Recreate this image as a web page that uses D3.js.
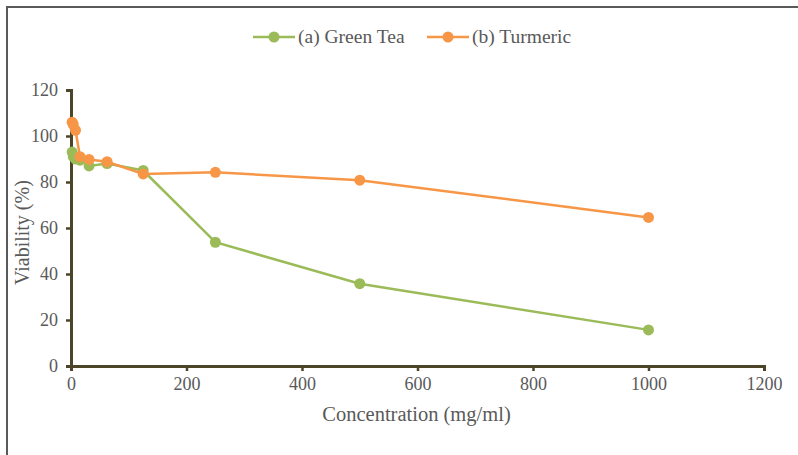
<!DOCTYPE html>
<html>
<head>
<meta charset="utf-8">
<script src="https://cdn.jsdelivr.net/npm/d3@7"></script>
<style>
  body { margin: 0; background: #fff; }
  svg text { font-family: "Liberation Serif", "Times New Roman", "DejaVu Serif", serif; fill: #595959; }
</style>
</head>
<body>
<svg id="chart" width="798" height="455"></svg>
<script>
const concentrations = [1.95, 3.9, 7.8, 15.6, 31.25, 62.5, 125, 250, 500, 1000];
const greenTea = [93, 91, 90, 89.5, 87, 88, 85, 53.8, 35.8, 15.7];
const turmeric = [106, 105, 102.5, 91, 89.8, 88.8, 83.5, 84.2, 80.8, 64.6];
const seriesNames = ["(a) Green Tea", "(b) Turmeric"];
const seriesColors = ["#9bbb59", "#f79646"];
const xTicks = [0, 200, 400, 600, 800, 1000, 1200];
const yTicks = [0, 20, 40, 60, 80, 100, 120];

const svg = d3.select("#chart");
const margin = { left: 71, right: 34, top: 90, bottom: 89 };
const width = 798, height = 455;
const serif = "Liberation Serif, Times New Roman, serif";

// frame (top and left edges only)
svg.append("path")
  .attr("d", "M7,455 L7,7 L798,7")
  .attr("fill", "none")
  .attr("stroke", "#5a5a5a")
  .attr("stroke-width", 2);

const x = d3.scaleLinear().domain([0, 1200]).range([margin.left, width - margin.right]);
const y = d3.scaleLinear().domain([0, 120]).range([height - margin.bottom, margin.top]);

const axisColor = "#4d4528";

const xAxis = svg.append("g")
  .attr("transform", `translate(0,${y(0)})`)
  .call(d3.axisBottom(x).tickValues(xTicks).tickFormat(d3.format("d")).tickSize(5).tickPadding(6));
const yAxis = svg.append("g")
  .attr("transform", `translate(${x(0)},0)`)
  .call(d3.axisLeft(y).tickValues(yTicks).tickFormat(d3.format("d")).tickSize(5).tickPadding(8));

[xAxis, yAxis].forEach(a => {
  a.attr("font-family", serif).attr("font-size", 18);
  a.select(".domain").attr("stroke", axisColor).attr("stroke-width", 3);
  a.selectAll(".tick line").attr("stroke", axisColor).attr("stroke-width", 2.5);
  a.selectAll(".tick text")
    .attr("font-family", serif)
    .attr("font-size", 18)
    .attr("fill", "#595959");
});

svg.append("text")
  .attr("x", (x(0) + x(1200)) / 2 - 1)
  .attr("y", 421)
  .attr("text-anchor", "middle")
  .attr("font-family", serif)
  .attr("font-size", 20.5)
  .text("Concentration (mg/ml)");

svg.append("text")
  .attr("transform", `translate(29,${y(58)}) rotate(-90)`)
  .attr("text-anchor", "middle")
  .attr("font-family", serif)
  .attr("font-size", 20)
  .text("Viability (%)");

const line = d3.line().x(d => x(d[0])).y(d => y(d[1]));
[greenTea, turmeric].forEach((vals, i) => {
  const pts = concentrations.map((c, j) => [c, vals[j]]);
  svg.append("path")
    .datum(pts)
    .attr("d", line)
    .attr("fill", "none")
    .attr("stroke", seriesColors[i])
    .attr("stroke-width", 2.5);
  svg.append("g").selectAll("circle")
    .data(pts)
    .enter()
    .append("circle")
    .attr("cx", d => x(d[0]))
    .attr("cy", d => y(d[1]))
    .attr("r", 5.5)
    .attr("fill", seriesColors[i]);
});

// legend
const legendX = [253, 427];
const legend = svg.selectAll(".legend")
  .data(seriesNames)
  .enter()
  .append("g")
  .attr("transform", (d, i) => `translate(${legendX[i]},37)`);
legend.append("line")
  .attr("x1", 0).attr("x2", 42)
  .attr("stroke", (d, i) => seriesColors[i])
  .attr("stroke-width", 2.5);
legend.append("circle")
  .attr("cx", 21).attr("r", 5.5)
  .attr("fill", (d, i) => seriesColors[i]);
legend.append("text")
  .attr("x", 45)
  .attr("y", 6)
  .attr("font-family", serif)
  .attr("font-size", 19.5)
  .text(d => d);
</script>
</body>
</html>
